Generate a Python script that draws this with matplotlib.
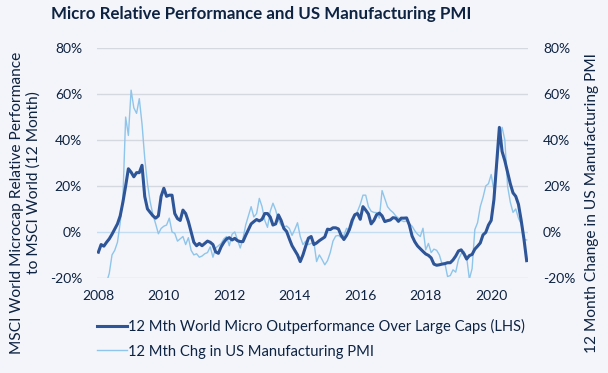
import numpy as np
import pandas as pd
import matplotlib
matplotlib.use('Agg')
import matplotlib.pyplot as plt

plt.rcParams['font.family'] = ['Lato', 'DejaVu Sans']

# monthly categories, Jan 2008 - Feb 2021
months = pd.date_range('2008-01-01', periods=158, freq='MS')

# 12 mth world micro outperformance over large caps (%)
micro = [
    -8.8, -5.5, -6.2, -4.5, -3.0, -1.0, 1.2, 3.5, 7.0, 13.0, 20.0, 27.5,
    26.0, 24.0, 25.8, 25.8, 29.0, 15.4, 10.0, 8.5, 7.0, 6.0, 7.0, 15.5,
    19.0, 15.5, 16.0, 16.0, 8.0, 5.8, 5.0, 9.5, 8.0, 4.5, 0.0, -4.5,
    -6.0, -5.0, -6.0, -5.0, -4.0, -4.5, -5.5, -8.7, -9.3, -6.5, -4.5, -3.0,
    -2.5, -3.5, -2.8, -3.8, -4.2, -4.2, -1.5, 1.0, 3.5, 4.5, 5.4, 4.8,
    5.5, 8.0, 8.0, 6.5, 3.0, 3.5, 7.4, 5.0, 1.5, 0.2, -3.0, -6.0,
    -8.0, -10.0, -12.9, -10.0, -6.2, -2.7, -2.0, -5.5, -4.8, -3.8, -3.0, -2.2,
    1.2, 1.0, 1.8, 1.8, 1.3, -1.5, -3.3, -1.5, 1.0, 5.0, 7.5, 8.0,
    5.5, 11.0, 9.5, 7.8, 3.5, 5.0, 7.5, 8.2, 7.0, 4.5, 4.9, 5.2,
    6.2, 6.0, 4.6, 6.0, 6.0, 6.1, 3.0, -1.8, -4.3, -6.1, -7.3, -8.5,
    -9.6, -10.2, -11.3, -14.0, -14.5, -14.3, -14.0, -13.8, -13.4, -13.4, -12.2, -10.5,
    -8.3, -7.8, -9.5, -11.8, -10.3, -9.8, -7.5, -6.2, -4.8, -1.3, -0.2, 3.0,
    5.0, 14.0, 30.0, 45.5, 35.0, 31.0, 26.0, 21.0, 17.0, 15.5, 12.0, 5.0,
    -3.0, -12.5,
]

# 12 mth change in US manufacturing PMI (%)
pmi = [
    -35.0, -30.0, -27.0, -22.0, -18.0, -10.0, -8.0, -4.5, 4.0, 15.0, 50.0, 42.0,
    61.7, 54.0, 51.6, 58.0, 47.0, 32.0, 21.0, 13.0, 7.5, 3.5, -0.8, 1.5,
    2.5, 3.0, 6.0, 0.0, -0.6, -4.0, -3.0, -2.0, -5.5, -2.5, -8.0, -10.0,
    -9.5, -11.0, -10.5, -9.5, -9.0, -6.5, -11.0, -7.0, -6.0, -5.0, -3.0, -2.0,
    -6.0, -1.0, 0.0, -3.5, -7.0, -3.0, 3.0, 7.0, 11.0, 6.5, 8.0, 14.6,
    11.0, 5.0, 2.0, 9.0, 12.5, 9.5, 5.0, 3.0, 2.0, 2.6, 1.5, -1.5,
    1.0, 4.0, -2.0, -5.5, -4.0, -5.5, -5.0, -4.5, -12.9, -10.0, -12.0, -14.3,
    -12.5, -9.0, -4.0, -1.8, -1.5, -2.5, -1.5, 1.6, 0.5, 3.0, 7.0, 9.0,
    12.0, 16.0, 16.0, 11.0, 9.0, 8.5, 8.4, 6.0, 18.0, 14.5, 11.0, 9.5,
    8.5, 7.0, 6.0, 5.0, 4.5, 4.8, 3.5, 2.5, 0.5, -1.0, -2.0, 1.6,
    -7.8, -5.0, -9.0, -7.5, -8.0, -10.0, -14.0, -13.5, -19.4, -19.0, -16.5, -17.5,
    -12.0, -9.5, -8.5, -11.0, -20.5, -16.0, 1.0, 4.0, 11.0, 15.0, 20.0, 21.0,
    25.0, 18.0, 28.0, 40.0, 45.5, 40.0, 20.0, 13.0, 8.5, 10.0, 6.0, 3.5,
    -3.3, -3.5,
]

tick_years = ['2008', '2010', '2012', '2014', '2016', '2018', '2020']
y_ticks = [-20, 0, 20, 40, 60, 80]

bg = '#F3F5FA'
text_col = '#0E2341'
dark_blue = '#2E5597'
light_blue = '#8FC5EA'

x = np.arange(len(months))

fig = plt.figure(figsize=(6.08, 3.73), dpi=100, facecolor=bg)
ax = fig.add_axes([0.160, 0.255, 0.708, 0.616], facecolor=bg)
ax2 = ax.twinx()

for y in y_ticks:
    if y == 0:
        ax.axhline(y, color='#C5DDF2', lw=1.0, zorder=1)
    else:
        ax.axhline(y, color='#D6D8E0', lw=1.0, zorder=1)

ax.plot(x, pmi, color=light_blue, lw=1.0, zorder=2,
        label='12 Mth Chg in US Manufacturing PMI')
ax.plot(x, micro, color=dark_blue, lw=2.2, zorder=3,
        label='12 Mth World Micro Outperformance Over Large Caps (LHS)')

for a in (ax, ax2):
    a.set_ylim(-20, 80)
    a.set_yticks(y_ticks)
    a.set_yticklabels([f'{v}%' for v in y_ticks])
    a.tick_params(axis='y', length=0, labelsize=10, colors=text_col, pad=11)
    for s in a.spines.values():
        s.set_visible(False)

ax.set_xlim(-0.4, len(months) - 0.6)
ax.set_xticks(x[::24])
ax.set_xticklabels(tick_years)
ax.tick_params(axis='x', length=0, labelsize=10, colors=text_col, pad=9)

# axis titles
fig.text(0.028, 1 - 52 / 373, 'MSCI World Microcap Relative Performance',
         rotation=90, ha='center', va='top', fontsize=11.2, color=text_col)
fig.text(0.055, 1 - 183 / 373, 'to MSCI World (12 Month)',
         rotation=90, ha='center', va='center', fontsize=11.2, color=text_col)
fig.text(0.974, 1 - 53 / 373, '12 Month Change in US Manufacturing PMI',
         rotation=90, ha='center', va='top', fontsize=11.2, color=text_col)

fig.text(0.429, 0.962, 'Micro Relative Performance and US Manufacturing PMI',
         ha='center', va='center', fontsize=12.2, fontweight='bold', color=text_col)

h, l = ax.get_legend_handles_labels()
fig.legend(h[::-1], l[::-1], loc='upper left', bbox_to_anchor=(0.150, 0.160),
           frameon=False, fontsize=10.6, handlelength=2.0, handletextpad=0.1,
           labelspacing=0.7, labelcolor=text_col, borderaxespad=0)

fig.savefig('out.png', dpi=100, facecolor=bg)
